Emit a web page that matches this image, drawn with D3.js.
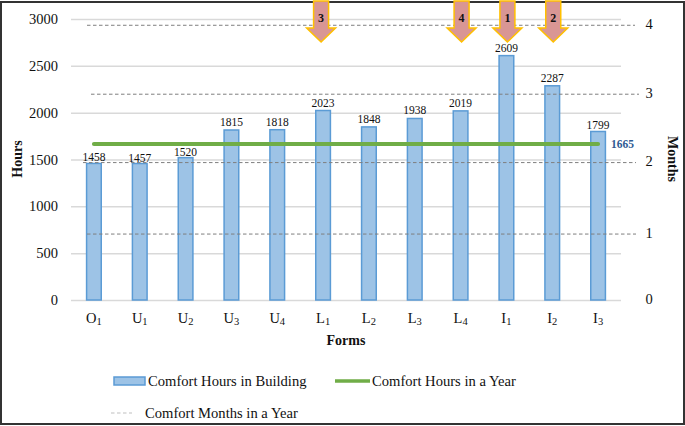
<!DOCTYPE html>
<meta charset="utf-8">
<style type="text/css">
    html, body { margin: 0; padding: 0; background: #fff; }
    svg { display: block; font-family: "Liberation Serif", serif; }
    .grid line { stroke: #d9d9d9; stroke-width: 1.5; }
    .bar { fill: #9dc3e6; stroke: #5b9bd5; stroke-width: 1.5; }
    .month-line { stroke: #7f7f7f; stroke-width: 1; stroke-dasharray: 3.5 2.5; }
    .arrow { fill: #d99694; stroke: #ffc000; stroke-width: 1.5; }
</style>
<body>
<script src="https://cdnjs.cloudflare.com/ajax/libs/d3/7.8.5/d3.min.js"></script>
<script>
    var forms = ["O1", "U1", "U2", "U3", "U4", "L1", "L2", "L3", "L4", "I1", "I2", "I3"];
    var comfortHours = [1458, 1457, 1520, 1815, 1818, 2023, 1848, 1938, 2019, 2609, 2287, 1799];
    var comfortYear = 1665;
    var hourTicks = [0, 500, 1000, 1500, 2000, 2500, 3000];
    var monthTicks = [0, 1, 2, 3, 4];
    // months lines were placed by hand in the original, so they sit on their own stops
    var monthStops = [0, 704, 1467, 2197, 2933];
    var rankedForms = ["I1", "I2", "L1", "L4"];

    var width = 685, height = 426;
    var margin = {top: 19, right: 64, bottom: 126, left: 71};

    var svg = d3.select("body").append("svg")
        .attr("width", width)
        .attr("height", height);

    svg.append("rect")
        .attr("x", 1).attr("y", 2)
        .attr("width", width - 2).attr("height", height - 4)
        .attr("fill", "#fff")
        .attr("stroke", "#333")
        .attr("stroke-width", 2);

    var x = d3.scaleBand()
        .domain(forms)
        .range([margin.left, width - margin.right])
        .paddingInner(0.68)
        .paddingOuter(0.34);

    var y = d3.scaleLinear()
        .domain([0, 3000])
        .range([height - margin.bottom, margin.top]);

    // months axis runs through the hand placed stops
    var yMonths = d3.scaleLinear()
        .domain(monthTicks)
        .range(monthStops.map(function(d) { return y(d); }));

    // y axis and grid
    var yAxis = svg.append("g")
        .attr("class", "grid")
        .attr("transform", "translate(" + margin.left + ",0)")
        .call(d3.axisLeft(y)
            .tickValues(hourTicks)
            .tickFormat(d3.format("d"))
            .tickSize(-(width - margin.left - margin.right))
            .tickPadding(13));
    yAxis.select(".domain").remove();
    yAxis.selectAll("text")
        .attr("font-family", "Liberation Serif")
        .attr("font-size", 14.5)
        .attr("fill", "#111");

    // bars
    svg.selectAll(".bar")
        .data(comfortHours)
        .enter().append("rect")
        .attr("class", "bar")
        .attr("x", function(d, i) { return x(forms[i]); })
        .attr("y", function(d) { return y(d); })
        .attr("width", x.bandwidth())
        .attr("height", function(d) { return y(0) - y(d); });

    // the labels that would hit the green or dashed line sit closer to their bar
    svg.selectAll(".bar-label")
        .data(comfortHours)
        .enter().append("text")
        .attr("class", "bar-label")
        .attr("x", function(d, i) { return x(forms[i]) + x.bandwidth() / 2; })
        .attr("y", function(d, i) { return y(d) - (i < 3 || i === 11 ? 2 : 4); })
        .attr("text-anchor", "middle")
        .attr("font-size", 11.5)
        .attr("fill", "#111")
        .text(function(d) { return d; });

    // x axis, labels get a subscript digit
    var xAxis = svg.append("g")
        .attr("transform", "translate(0," + y(0) + ")")
        .call(d3.axisBottom(x).tickSize(0).tickFormat(""));
    xAxis.select(".domain").remove();
    xAxis.selectAll(".tick text").remove();
    var xLabels = xAxis.selectAll(".tick").append("text")
        .attr("y", 23)
        .attr("text-anchor", "middle")
        .attr("font-family", "Liberation Serif")
        .attr("font-size", 14.5)
        .attr("fill", "#111");
    xLabels.append("tspan").text(function(d) { return d.charAt(0); });
    xLabels.append("tspan")
        .attr("font-size", 10.5)
        .attr("dy", 2)
        .text(function(d) { return d.charAt(1); });

    // comfort months lines, hand drawn so the ends differ a bit
    var monthLineEnds = {1: [87, 636], 2: [83, 636], 3: [91, 639], 4: [87, 635]};
    svg.selectAll(".month-line")
        .data(monthTicks.slice(1))
        .enter().append("line")
        .attr("class", "month-line")
        .attr("x1", function(d) { return monthLineEnds[d][0]; })
        .attr("x2", function(d) { return monthLineEnds[d][1]; })
        .attr("y1", function(d) { return yMonths(d); })
        .attr("y2", function(d) { return yMonths(d); });

    svg.selectAll(".month-tick")
        .data(monthTicks)
        .enter().append("text")
        .attr("class", "month-tick")
        .attr("x", 649)
        .attr("y", function(d) { return yMonths(d) + 3.5; })
        .attr("text-anchor", "middle")
        .attr("font-size", 14.5)
        .attr("fill", "#111")
        .text(function(d) { return d; });

    // comfort hours in a year
    var yearLine = d3.line()
        .x(function(d) { return x(d) + x.bandwidth() / 2; })
        .y(function() { return y(comfortYear); });

    svg.append("path")
        .datum(forms)
        .attr("d", yearLine)
        .attr("fill", "none")
        .attr("stroke", "#70ad47")
        .attr("stroke-width", 4)
        .attr("stroke-linecap", "round");

    svg.append("text")
        .attr("x", 611)
        .attr("y", y(comfortYear) + 4)
        .attr("font-size", 11.5)
        .attr("font-weight", "bold")
        .attr("fill", "#2f5b93")
        .text(comfortYear);

    // ranking arrows
    var arrow = svg.selectAll(".arrow-group")
        .data(rankedForms)
        .enter().append("g")
        .attr("class", "arrow-group")
        .attr("transform", function(d) {
            return "translate(" + (x(d) + x.bandwidth() / 2 + (d === "L1" ? -2 : 1)) + ",0)";
        });

    arrow.append("path")
        .attr("class", "arrow")
        .attr("d", "M-7.5,1V28H-14.5L0,42L14.5,28H7.5V1Z");

    arrow.append("text")
        .attr("y", 22)
        .attr("text-anchor", "middle")
        .attr("font-size", 12)
        .attr("font-weight", "bold")
        .attr("fill", "#111")
        .text(function(d, i) { return i + 1; });

    // axis titles
    svg.append("text")
        .attr("transform", "translate(22,159) rotate(-90)")
        .attr("text-anchor", "middle")
        .attr("font-size", 14)
        .attr("font-weight", "bold")
        .attr("fill", "#111")
        .text("Hours");

    svg.append("text")
        .attr("transform", "translate(668,159) rotate(90)")
        .attr("text-anchor", "middle")
        .attr("font-size", 14)
        .attr("font-weight", "bold")
        .attr("fill", "#111")
        .text("Months");

    svg.append("text")
        .attr("x", 346)
        .attr("y", 345)
        .attr("text-anchor", "middle")
        .attr("font-size", 14)
        .attr("font-weight", "bold")
        .attr("fill", "#111")
        .text("Forms");

    // legend
    var legend = svg.append("g").attr("font-size", 14.6).attr("fill", "#111");

    legend.append("rect")
        .attr("class", "bar")
        .attr("x", 114).attr("y", 377)
        .attr("width", 31).attr("height", 8);
    legend.append("text").attr("x", 148).attr("y", 386).text("Comfort Hours in Building");

    legend.append("line")
        .attr("x1", 335).attr("x2", 370)
        .attr("y1", 381).attr("y2", 381)
        .attr("stroke", "#70ad47")
        .attr("stroke-width", 3.5);
    legend.append("text").attr("x", 372).attr("y", 386).text("Comfort Hours in a Year");

    legend.append("line")
        .attr("x1", 111).attr("x2", 132)
        .attr("y1", 413).attr("y2", 413)
        .attr("stroke", "#bfbfbf")
        .attr("stroke-width", 1)
        .attr("stroke-dasharray", "3.5 2.5");
    legend.append("text").attr("x", 145).attr("y", 418).text("Comfort Months in a Year");
</script>
</body>
